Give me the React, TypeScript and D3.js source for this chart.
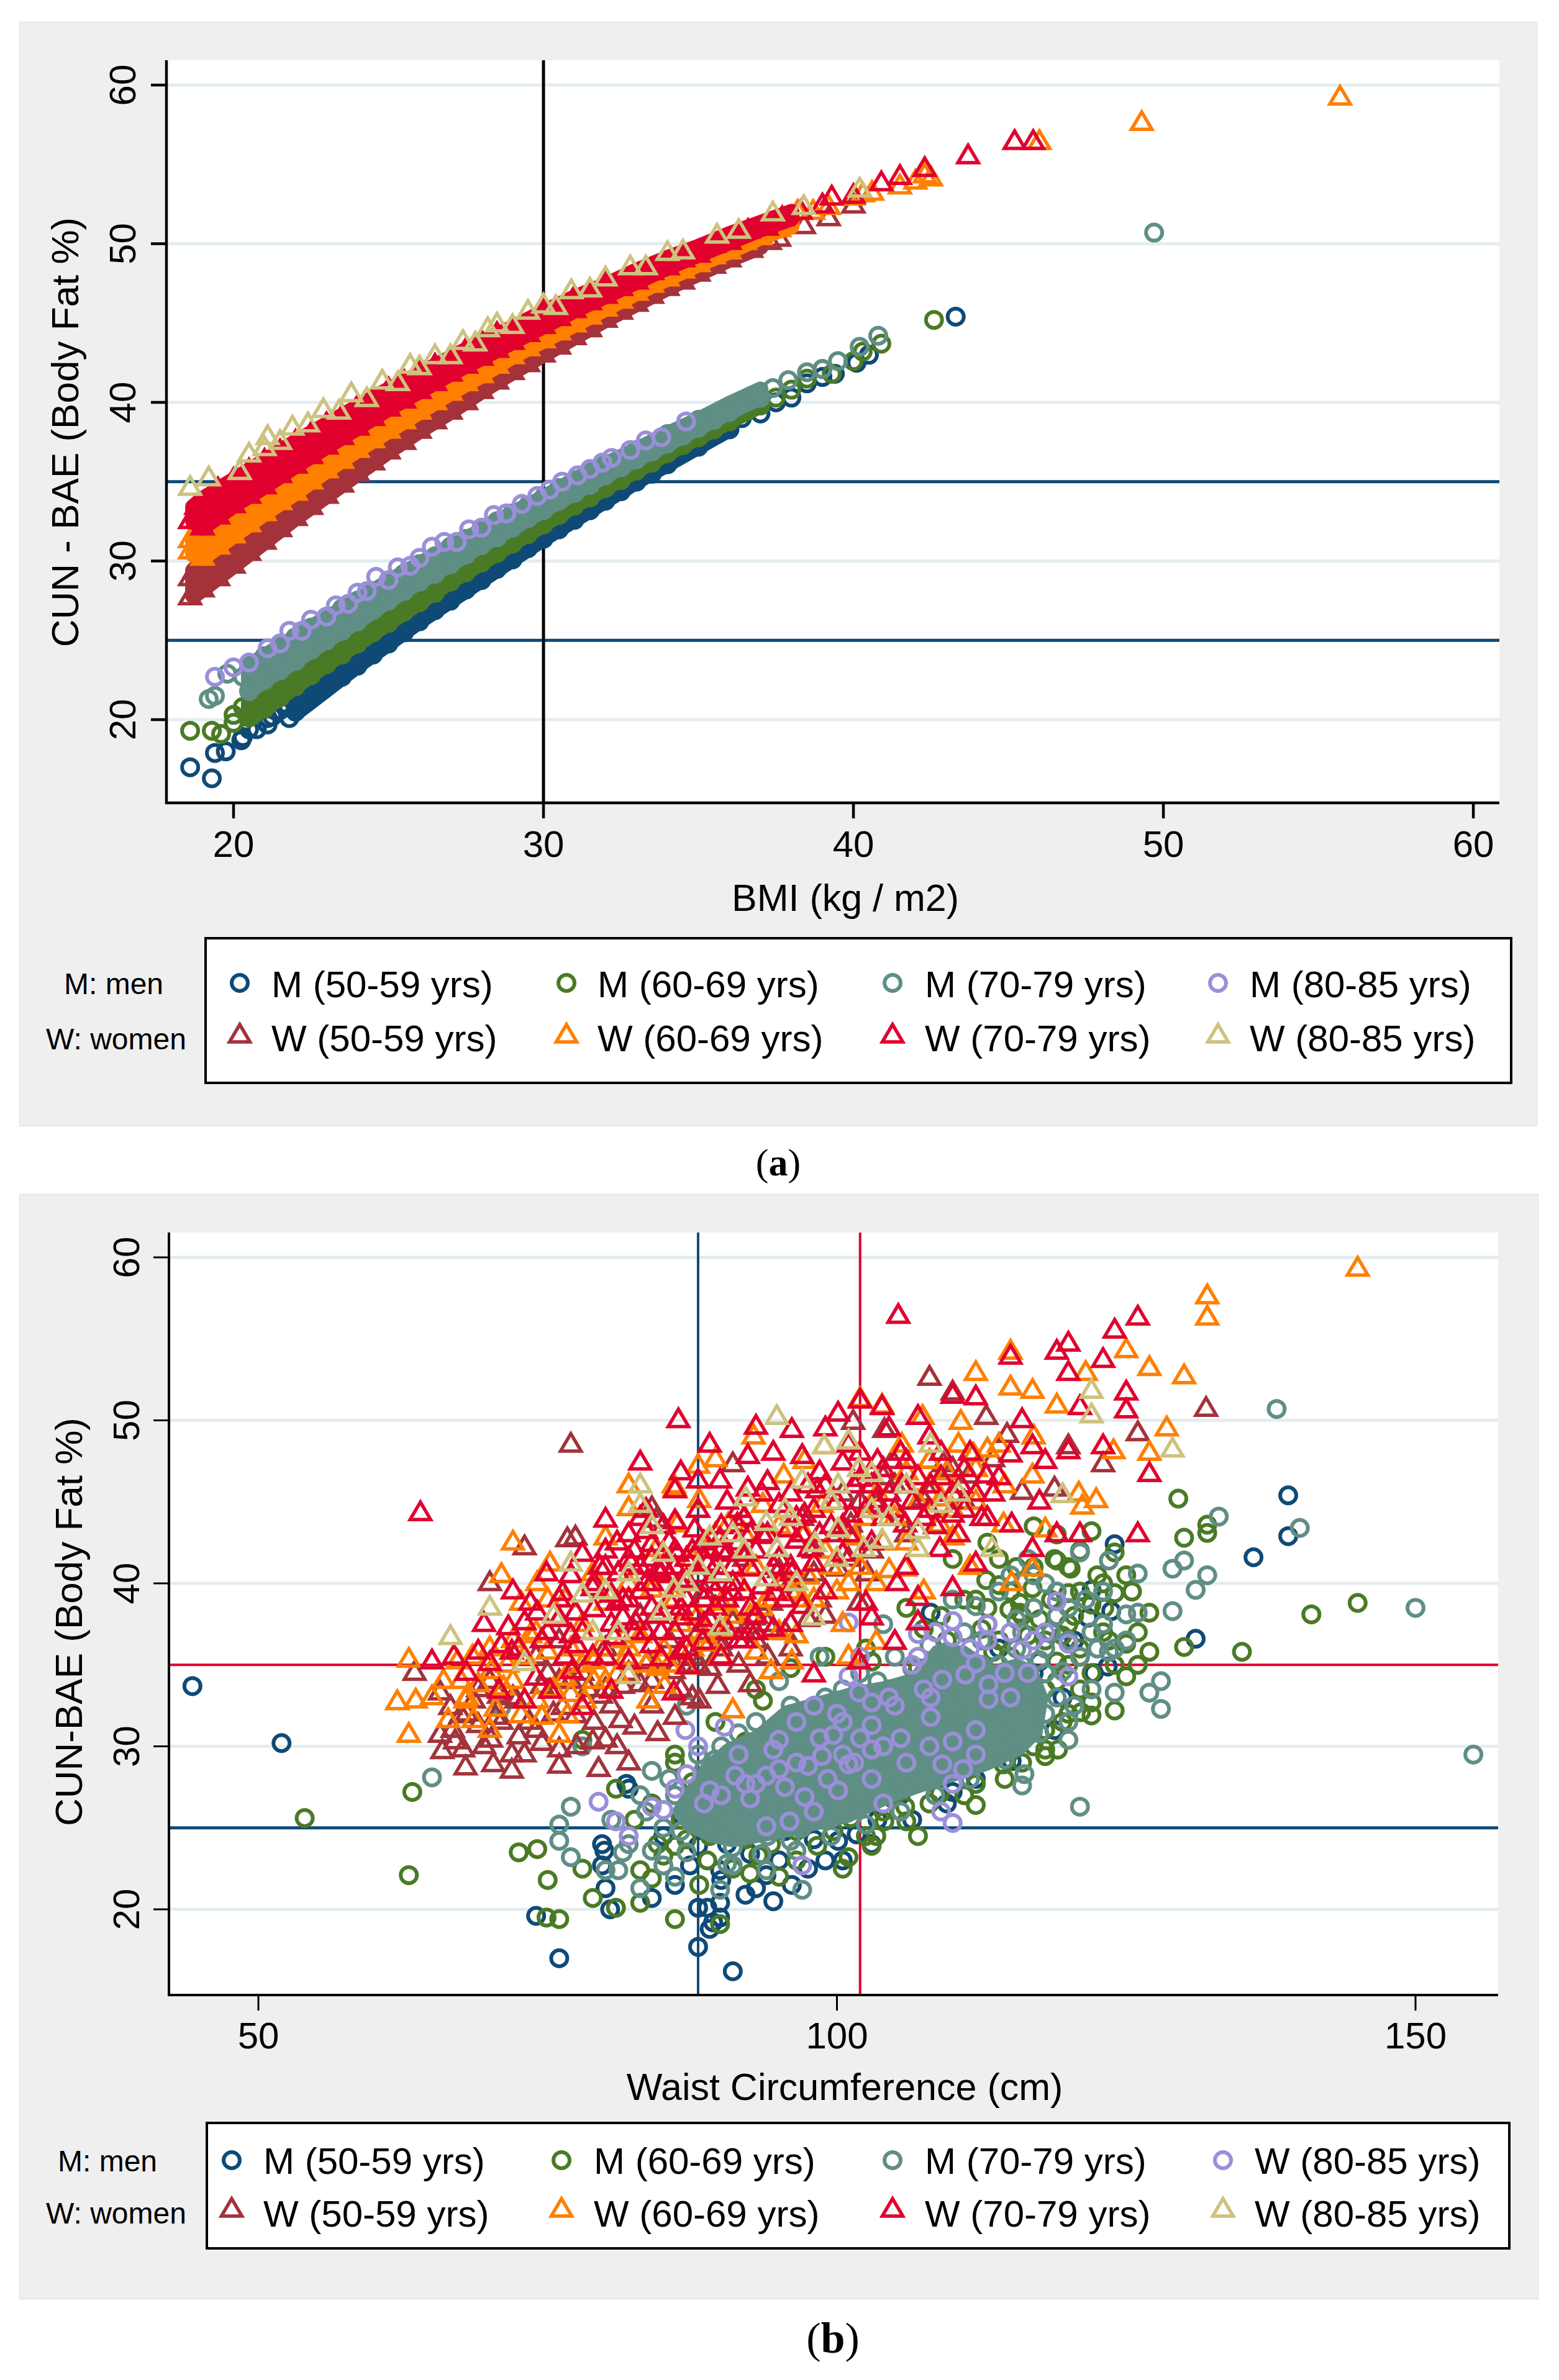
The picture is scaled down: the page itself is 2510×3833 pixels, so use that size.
import React from 'react';
import * as d3 from 'd3';

type Pt = [number, number];
type Bd = [number, number, number];

// ===================== Panel (a): BMI (x) vs CUN-BAE (y) =====================
const aM5059: Pt[] = [[18.6,17.0],[19.3,16.3],[19.4,17.9],[20.3,18.9],[20.5,19.4],[21.1,19.7],[21.1,20.1],[21.5,20.6],[21.8,20.1],[22.0,20.5],[22.3,21.6],[22.9,21.9],[23.0,22.5],[23.5,22.7],[23.8,23.9],[24.0,23.4],[24.5,24.1],[24.5,25.0],[25.0,24.8],[25.3,25.9],[25.5,25.5],[26.0,26.2],[26.3,27.2],[26.5,26.9],[27.0,27.5],[27.3,28.4],[27.5,28.2],[28.0,28.8],[28.4,29.9],[28.5,29.5],[29.0,30.1],[29.4,31.0],[29.5,30.8],[30.0,31.4],[30.3,32.4],[30.5,32.0],[31.0,32.6],[31.4,33.6],[31.5,33.2],[32.0,33.8],[32.4,34.7],[32.5,34.4],[33.0,35.0],[33.5,35.5],[34.0,36.1],[34.5,37.0],[35.0,37.2],[35.5,38.0],[36.0,38.3],[36.4,39.0],[37.0,39.3],[37.5,40.0],[38.0,40.3],[38.5,41.2],[39.0,41.6],[39.4,41.8],[40.1,42.5],[40.5,43.0],[43.3,45.4],[19.75,18.0],[20.25,18.7],[20.75,19.4],[21.25,20.2],[21.75,20.9],[22.25,21.6],[22.75,22.3],[23.25,23.0],[23.75,23.7],[24.25,24.4],[24.75,25.1],[25.25,25.8],[25.75,26.4],[26.25,27.1],[26.75,27.8],[27.25,28.4],[27.75,29.0],[28.25,29.7],[28.75,30.3],[29.25,30.9],[29.75,31.5],[30.25,32.1],[30.75,32.7],[31.25,33.3],[31.75,33.9],[32.25,34.5],[32.75,35.0],[33.25,35.6],[33.75,36.1],[34.25,36.7],[34.75,37.2],[35.25,37.8],[35.75,38.3]];
const aM6069: Pt[] = [[18.6,19.3],[19.3,19.3],[19.6,19.1],[20.0,20.3],[20.0,19.8],[20.3,20.8],[20.7,20.9],[21.0,20.7],[21.0,22.3],[21.5,21.4],[21.5,23.0],[22.0,22.1],[22.0,23.6],[22.5,22.8],[22.5,24.2],[23.0,23.5],[23.0,24.8],[23.5,24.1],[23.5,25.5],[24.0,24.8],[24.0,26.1],[24.5,25.5],[24.5,26.7],[25.0,26.1],[25.0,27.3],[25.5,26.8],[25.5,27.9],[26.0,27.4],[26.0,28.5],[26.5,28.0],[26.5,29.1],[27.0,28.7],[27.0,29.7],[27.5,29.3],[27.5,30.3],[28.0,29.9],[28.0,30.9],[28.5,30.5],[28.5,31.4],[29.0,31.1],[29.0,32.0],[29.5,31.7],[29.5,32.6],[30.0,32.3],[30.0,33.1],[30.5,32.9],[30.5,33.7],[31.0,33.5],[31.0,34.2],[31.5,34.0],[31.5,34.7],[32.0,34.6],[32.0,35.3],[32.5,35.1],[33.0,35.7],[33.0,36.3],[33.5,36.2],[34.0,36.8],[34.0,37.3],[34.5,37.3],[35.0,37.8],[35.0,38.3],[35.5,38.3],[36.0,38.8],[36.0,39.3],[36.5,39.4],[37.0,39.8],[37.5,40.3],[38.0,40.8],[38.5,41.5],[39.0,42.1],[39.3,41.8],[40.0,42.6],[40.3,43.2],[40.9,43.7],[42.6,45.2]];
const aM7079: Pt[] = [[19.2,21.3],[19.4,21.5],[19.8,22.9],[20.3,22.7],[20.5,21.8],[20.5,23.4],[21.0,22.5],[21.0,24.0],[21.5,23.1],[21.5,24.6],[22.0,23.7],[22.0,25.2],[22.5,24.4],[22.5,25.8],[23.0,25.0],[23.0,26.4],[23.5,25.6],[23.5,27.0],[24.0,26.2],[24.0,27.5],[24.5,26.9],[24.5,28.1],[25.0,27.5],[25.0,28.7],[25.5,28.1],[25.5,29.2],[26.0,28.7],[26.0,29.8],[26.5,29.2],[26.5,30.3],[27.0,29.8],[27.0,30.9],[27.5,30.4],[27.5,31.4],[28.0,31.0],[28.0,31.9],[28.5,31.5],[28.5,32.5],[29.0,32.1],[29.0,33.0],[29.5,32.7],[29.5,33.5],[30.0,33.2],[30.0,34.0],[30.5,33.8],[30.5,34.6],[31.0,34.3],[31.0,35.1],[31.5,34.8],[31.5,35.6],[32.0,35.4],[32.0,36.1],[32.5,35.9],[33.0,36.4],[33.0,37.0],[33.5,36.9],[34.0,37.4],[34.0,38.0],[34.5,37.9],[35.0,38.4],[35.0,38.9],[35.5,38.9],[36.0,39.4],[36.3,40.0],[37.0,40.3],[37.4,40.9],[37.9,41.4],[38.5,41.9],[39.0,42.1],[39.5,42.6],[40.2,43.5],[40.8,44.2],[49.7,50.7]];
const aM8085: Pt[] = [[19.4,22.7],[20.0,23.3],[20.5,23.6],[21.1,24.5],[21.5,24.8],[21.8,25.6],[22.2,25.6],[22.5,26.3],[23.0,26.5],[23.3,27.2],[23.7,27.3],[24.0,28.0],[24.3,28.1],[24.6,29.0],[25.0,28.8],[25.3,29.6],[25.7,29.7],[26.0,30.2],[26.4,30.9],[26.8,31.2],[27.2,31.2],[27.6,32.0],[28.0,32.1],[28.4,32.9],[28.8,33.0],[29.3,33.6],[29.8,34.1],[30.2,34.5],[30.6,35.0],[31.1,35.4],[31.5,35.8],[31.9,36.2],[32.2,36.5],[32.8,37.0],[33.3,37.6],[33.8,37.8],[34.6,38.8]];
const aW5059: Pt[] = [[18.6,27.7],[18.6,28.9],[19.0,28.2],[19.0,29.9],[19.5,28.9],[19.5,30.7],[20.0,29.7],[20.0,31.4],[20.5,30.5],[20.5,32.1],[21.0,31.2],[21.0,32.8],[21.5,32.0],[21.5,33.5],[22.0,32.7],[22.0,34.2],[22.5,33.4],[22.5,34.8],[23.0,34.1],[23.0,35.5],[23.5,34.8],[23.5,36.2],[24.0,35.5],[24.0,36.8],[24.5,36.2],[24.5,37.4],[25.0,36.9],[25.0,38.1],[25.5,37.5],[25.5,38.7],[26.0,38.2],[26.0,39.3],[26.5,38.8],[26.5,39.9],[27.0,39.4],[27.0,40.5],[27.5,40.0],[27.5,41.1],[28.0,40.7],[28.0,41.6],[28.5,41.3],[28.5,42.2],[29.0,41.9],[29.0,42.8],[29.5,42.4],[30.0,43.0],[30.0,43.8],[30.5,43.5],[31.0,44.1],[31.0,44.9],[31.5,44.6],[32.0,45.2],[32.0,45.9],[32.5,45.7],[33.0,46.2],[33.5,46.7],[34.0,47.2],[34.5,47.6],[35.0,48.1],[35.5,48.6],[36.0,49.0],[36.7,49.6],[37.3,50.1],[37.6,50.3],[38.4,51.1],[39.2,51.6],[40.0,52.4]];
const aW6069: Pt[] = [[18.6,30.6],[18.6,31.3],[19.0,30.2],[19.0,31.9],[19.5,30.9],[19.5,32.6],[20.0,31.6],[20.0,33.3],[20.5,32.3],[20.5,33.9],[21.0,33.0],[21.0,34.6],[21.5,33.7],[21.5,35.2],[22.0,34.3],[22.0,35.8],[22.5,35.0],[22.5,36.4],[23.0,35.7],[23.0,37.1],[23.5,36.3],[23.5,37.7],[24.0,37.0],[24.0,38.3],[24.5,37.6],[24.5,38.8],[25.0,38.2],[25.0,39.4],[25.5,38.8],[25.5,40.0],[26.0,39.4],[26.0,40.6],[26.5,40.0],[26.5,41.1],[27.0,40.6],[27.0,41.6],[27.5,41.2],[27.5,42.2],[28.0,41.7],[28.0,42.7],[28.5,42.3],[28.5,43.2],[29.0,42.9],[29.0,43.7],[29.5,43.4],[30.0,43.9],[30.0,44.7],[30.5,44.4],[31.0,44.9],[31.0,45.7],[31.5,45.4],[32.0,45.9],[32.0,46.6],[32.5,46.4],[33.0,46.9],[33.5,47.4],[34.0,47.8],[34.5,48.3],[35.0,48.7],[35.5,49.2],[36.0,49.5],[36.5,50.1],[37.0,50.4],[37.6,50.9],[38.2,52.0],[38.7,52.0],[39.2,52.3],[40.0,52.9],[40.3,53.1],[40.6,53.2],[41.5,53.6],[42.0,53.9],[42.3,54.3],[42.5,54.1],[46.0,56.4],[49.3,57.6],[55.7,59.2]];
const aW7079: Pt[] = [[18.6,32.5],[18.8,33.4],[19.0,32.1],[19.4,34.0],[19.5,32.8],[19.5,34.5],[20.0,33.5],[20.0,35.1],[20.5,34.1],[20.5,35.7],[21.0,34.7],[21.0,36.3],[21.5,35.4],[21.5,36.9],[22.0,36.0],[22.0,37.5],[22.5,36.6],[22.5,38.0],[23.0,37.2],[23.0,38.6],[23.5,37.8],[23.5,39.1],[24.0,38.4],[24.0,39.7],[24.5,39.0],[24.5,40.2],[25.0,39.6],[25.0,40.8],[25.5,40.1],[25.5,41.3],[26.0,40.7],[26.0,41.8],[26.5,41.2],[26.5,42.3],[27.0,41.8],[27.0,42.8],[27.5,42.3],[27.5,43.3],[28.0,42.8],[28.0,43.8],[28.5,43.3],[28.5,44.3],[29.0,43.8],[29.0,44.7],[29.5,44.3],[30.0,44.8],[30.0,45.7],[30.5,45.3],[31.0,45.8],[31.0,46.6],[31.5,46.3],[32.0,46.7],[32.0,47.4],[32.5,47.2],[33.0,47.6],[33.5,48.2],[34.0,48.5],[34.5,49.0],[35.0,49.3],[35.5,49.9],[36.0,50.1],[36.6,50.8],[37.2,51.0],[37.7,51.6],[38.3,52.0],[39.0,52.4],[39.3,52.9],[40.0,53.0],[40.9,53.8],[41.5,54.2],[42.3,54.7],[43.7,55.5],[45.2,56.4],[45.8,56.4]];
const aW8085: Pt[] = [[18.6,34.6],[19.2,35.2],[20.2,35.6],[20.5,36.7],[21.0,37.1],[21.1,37.8],[21.5,37.5],[21.9,38.4],[22.4,38.6],[22.9,39.5],[23.4,39.4],[23.8,40.5],[24.3,40.2],[24.8,41.3],[25.3,41.2],[25.7,42.3],[26.0,42.2],[26.5,42.9],[27.0,42.9],[27.4,43.8],[27.8,43.7],[28.2,44.6],[28.5,44.9],[29.0,44.8],[29.5,45.7],[30.0,46.1],[30.4,46.0],[30.9,47.0],[31.5,47.1],[32.0,47.8],[32.8,48.5],[33.3,48.5],[34.0,49.4],[34.5,49.5],[35.6,50.5],[36.3,50.8],[37.4,51.9],[38.4,52.3],[40.2,53.4]];

// dense parts of the panel (a) bands: [BMI, lowest CUN-BAE, highest CUN-BAE]
const aM5059Band: Bd[] = [[22,20.4,21.9],[23,21.9,23.3],[24,23.4,24.7],[25,24.8,26.0],[26,26.2,27.3],[27,27.5,28.6],[28,28.8,29.8],[29,30.1,31.0],[30,31.4,32.2],[31,32.6,33.4],[32,33.8,34.5],[33,35.0,35.6],[34,36.1,36.7],[35,37.2,37.7],[36,38.3,38.8]];
const aM6069Band: Bd[] = [[20.5,20.0,21.6],[21,20.7,22.3],[22,22.1,23.6],[23,23.5,24.8],[24,24.8,26.1],[25,26.1,27.3],[26,27.4,28.5],[27,28.7,29.7],[28,29.9,30.9],[29,31.1,32.0],[30,32.3,33.1],[31,33.5,34.2],[32,34.6,35.3],[33,35.7,36.3],[34,36.8,37.3],[35,37.8,38.3],[36,38.8,39.3],[37,39.8,40.3]];
const aM7079Band: Bd[] = [[20.5,21.8,23.4],[21,22.5,24.0],[22,23.7,25.2],[23,25.0,26.4],[24,26.2,27.5],[25,27.5,28.7],[26,28.7,29.8],[27,29.8,30.9],[28,31.0,31.9],[29,32.1,33.0],[30,33.2,34.0],[31,34.3,35.1],[32,35.4,36.1],[33,36.4,37.0],[34,37.4,38.0],[35,38.4,38.9],[36,39.4,39.9],[37,40.3,40.8]];
const aW5059Band: Bd[] = [[18.7,27.8,29.4],[19,28.2,30.0],[20,29.7,31.4],[21,31.2,32.8],[22,32.7,34.2],[23,34.1,35.5],[24,35.5,36.8],[25,36.9,38.1],[26,38.2,39.3],[27,39.4,40.5],[28,40.7,41.6],[29,41.9,42.8],[30,43.0,43.8],[31,44.1,44.9],[32,45.2,45.9],[33,46.2,46.8],[34,47.2,47.8],[35,48.1,48.6],[36,49.0,49.5],[37,49.8,50.3]];
const aW6069Band: Bd[] = [[18.7,30.4,31.4],[19,30.2,31.9],[20,31.6,33.3],[21,33.0,34.6],[22,34.3,35.8],[23,35.7,37.1],[24,37.0,38.3],[25,38.2,39.4],[26,39.4,40.6],[27,40.6,41.6],[28,41.7,42.7],[29,42.9,43.7],[30,43.9,44.7],[31,44.9,45.7],[32,45.9,46.6],[33,46.9,47.5],[34,47.8,48.4],[35,48.7,49.2],[36,49.5,50.0],[37,50.4,50.8],[38,51.1,51.5]];
const aW7079Band: Bd[] = [[18.7,32.5,33.4],[19,32.1,33.9],[20,33.5,35.1],[21,34.7,36.3],[22,36.0,37.5],[23,37.2,38.6],[24,38.4,39.7],[25,39.6,40.8],[26,40.7,41.8],[27,41.8,42.8],[28,42.8,43.8],[29,43.8,44.7],[30,44.8,45.7],[31,45.8,46.6],[32,46.7,47.4],[33,47.6,48.3],[34,48.5,49.1],[35,49.3,49.8],[36,50.1,50.6],[37,50.9,51.3],[38,51.6,52.0]];

// ============ Panel (b): Waist circumference (x) vs CUN-BAE (y) ============
const bM5059: Pt[] = [[44.3,33.7],[52.0,30.2],[74.0,19.6],[76.0,17.0],[79.7,22.7],[79.7,24.0],[79.9,23.6],[80.0,21.3],[80.4,20.0],[81.8,27.7],[82.0,27.4],[84.0,20.7],[85.0,24.5],[86.5,25.8],[87.3,22.7],[88.0,17.7],[88.0,20.1],[88.0,23.9],[88.8,20.1],[89.0,18.8],[89.3,19.2],[89.9,19.5],[89.9,20.4],[89.9,22.4],[90.5,24.0],[91.0,16.2],[91.5,25.5],[92.0,27.0],[92.1,20.9],[92.5,23.4],[93.0,21.3],[93.9,22.1],[94.0,26.0],[95.0,23.0],[95.5,24.8],[96.0,28.5],[96.1,21.5],[97.0,26.5],[98.0,24.3],[98.5,29.8],[99.0,23.0],[99.5,27.0],[100.1,24.2],[101.0,26.0],[101.7,24.6],[102.0,33.0],[102.5,27.8],[103.5,25.5],[104.0,31.5],[104.5,29.0],[105.5,27.0],[106.0,30.5],[107.0,28.0],[108.1,38.2],[108.5,29.5],[109.0,34.0],[110.0,27.2],[110.5,35.5],[111.0,31.0],[112.5,33.0],[113.5,29.8],[114.0,36.0],[115.1,29.1],[115.1,31.6],[116.0,33.5],[117.0,34.5],[117.5,35.2],[118.8,31.0],[119.5,33.0],[120.5,36.5],[121.7,37.9],[122.0,39.6],[122.2,34.5],[123.4,34.9],[123.7,38.3],[124.0,42.4],[131.0,36.6],[136.0,41.6],[139.0,45.4],[139.0,42.9],[86.0,21.5],[90.0,21.8],[94.5,20.5],[97.5,22.5],[100.5,23.0],[103.0,24.0],[106.5,25.5],[109.5,26.5],[112.0,28.0],[95.0,25.5],[98.5,26.0]];
const bM6069: Pt[] = [[54.0,25.6],[63.0,22.1],[63.3,27.2],[72.5,23.5],[74.1,23.7],[74.9,19.5],[75.0,21.8],[76.0,19.4],[78.0,22.5],[78.0,30.4],[78.9,20.7],[80.9,27.4],[80.9,20.1],[83.0,22.4],[83.0,20.4],[84.0,21.9],[85.0,23.3],[86.0,19.4],[86.0,23.9],[86.0,29.5],[87.0,24.3],[88.1,21.5],[88.8,23.0],[89.9,19.1],[91.0,24.8],[92.1,24.3],[92.1,30.3],[93.2,23.3],[93.6,32.8],[94.3,24.0],[96.5,24.8],[98.3,23.9],[99.7,24.8],[101.0,23.2],[101.2,25.6],[103.0,23.9],[103.4,24.5],[104.1,25.4],[105.9,26.3],[106.0,25.4],[107.0,24.5],[108.9,27.1],[112.0,26.4],[112.0,27.7],[112.9,40.2],[114.0,39.9],[114.2,30.4],[114.4,28.9],[114.9,38.4],[115.8,38.2],[115.8,38.8],[116.9,39.7],[118.0,29.8],[118.0,29.4],[118.8,41.5],[119.0,41.4],[119.1,29.8],[120.0,41.0],[120.0,39.4],[120.2,40.9],[121.0,35.5],[121.1,32.1],[122.0,32.7],[122.0,31.9],[122.0,38.7],[122.0,43.2],[123.0,40.0],[123.1,38.5],[124.0,32.2],[124.0,39.4],[124.0,41.9],[125.0,34.3],[125.0,36.3],[127.0,35.8],[127.0,38.2],[129.5,45.2],[130.0,42.8],[130.0,36.1],[132.0,43.6],[132.0,43.1],[135.0,35.8],[141.0,38.1],[145.0,38.8],[82.5,25.5],[84.5,24.0],[86.5,25.5],[88.0,26.5],[90.0,27.8],[92.0,26.0],[94.0,27.5],[96.0,26.0],[98.0,28.5],[100.0,27.5],[102.0,29.0],[104.0,28.0],[106.0,29.5],[108.0,30.5],[110.0,29.8],[112.0,31.5],[114.0,33.0],[116.0,31.5],[118.0,33.5],[120.0,35.0],[104.5,33.5],[107.0,34.8],[109.5,36.5],[112.5,37.2],[115.0,35.5],[117.5,37.8],[119.5,36.8],[101.0,32.0],[97.0,31.0],[93.5,29.5],[89.5,31.5],[86.0,29.0],[91.0,22.5],[95.0,22.0],[98.0,25.5],[100.5,22.5],[104.0,26.0],[108.0,26.5],[111.0,27.0],[114.5,28.0],[117.0,30.0],[121.0,33.5],[123.5,36.5],[126.0,37.0],[110.0,41.5],[113.0,42.5],[117.0,43.5],[106.0,38.5],[102.5,36.0],[99.0,35.5],[96.0,34.8],[93.0,33.5],[84.0,26.5],[87.5,27.8],[90.5,29.0],[94.5,30.5],[97.5,27.2],[100.5,29.8],[103.5,31.0],[106.5,32.0],[109.0,33.0],[111.5,34.2],[113.5,35.8],[116.5,36.8],[119.0,35.2],[120.5,38.0],[122.5,40.5],[125.5,39.5],[118.5,39.0],[121.0,42.0],[115.5,41.0],[111.0,39.0],[107.5,37.2],[103.0,35.2],[89.0,24.5],[92.5,22.2],[96.5,23.0],[99.5,26.2],[102.5,24.5],[105.0,27.0],[108.5,28.2],[113.0,30.5],[116.0,29.0],[119.5,31.5],[113.0,33.8],[114.0,36.5],[115.0,31.0],[116.0,38.0],[117.0,33.5],[118.0,36.5],[118.0,31.0],[119.0,34.0],[120.0,37.5],[120.0,32.0],[121.0,39.5],[121.0,36.0],[122.0,34.5],[123.0,37.0],[124.0,35.0],[125.0,40.5],[126.0,35.0],[113.0,38.5],[115.0,39.5],[117.0,41.0],[111.0,35.5],[109.0,38.0],[119.0,43.0],[114.0,41.5],[112.0,39.0]];
const bM7079: Pt[] = [[65.0,28.1],[71.0,32.4],[76.0,25.2],[76.0,24.2],[77.0,26.3],[77.0,23.2],[78.0,30.0],[80.0,22.4],[81.1,22.4],[83.0,21.3],[84.0,23.6],[85.0,22.7],[87.0,32.5],[89.9,21.2],[91.0,22.7],[93.9,22.4],[97.0,21.2],[116.0,27.6],[116.2,28.3],[120.0,30.4],[121.0,26.3],[121.0,41.9],[123.5,41.4],[124.0,33.3],[125.0,38.1],[126.0,38.2],[126.0,40.6],[127.0,33.3],[128.0,34.0],[128.0,32.3],[129.0,38.3],[129.0,40.9],[130.0,41.4],[131.0,39.6],[132.0,40.5],[133.0,44.1],[138.0,50.7],[140.0,43.4],[150.0,38.5],[155.0,29.5],[80.5,25.5],[82.0,24.0],[83.5,26.0],[85.0,25.0],[86.0,27.0],[87.5,25.8],[88.5,27.5],[89.5,25.0],[90.5,26.5],[91.5,28.0],[92.5,25.8],[93.5,27.2],[94.5,29.0],[95.5,26.6],[96.5,28.2],[97.5,30.0],[98.5,27.5],[99.5,29.2],[100.5,31.0],[101.5,28.5],[102.5,30.2],[103.5,32.0],[104.5,29.5],[105.5,31.2],[106.5,33.0],[107.5,30.5],[108.5,32.3],[109.5,34.0],[110.5,31.6],[111.5,33.3],[112.5,35.0],[113.5,32.5],[114.5,34.3],[115.5,36.0],[116.5,33.5],[117.5,35.3],[118.5,37.0],[119.5,34.6],[90.0,30.0],[93.0,31.5],[96.0,32.5],[99.0,33.0],[102.0,34.5],[105.0,35.5],[108.0,36.2],[111.0,37.0],[87.0,23.5],[91.0,23.8],[94.0,24.5],[97.0,25.0],[100.0,26.0],[103.0,26.8],[106.0,27.5],[109.0,28.5],[112.0,29.5],[115.0,30.5],[118.0,32.0],[84.0,28.5],[88.0,29.5],[95.0,34.0],[98.5,35.5],[104.0,37.5],[110.0,39.0],[114.0,39.5],[117.0,40.5],[120.0,36.5],[122.5,36.0],[121.5,39.0],[119.0,38.0],[112.0,38.6],[123.5,35.8],[86.5,24.8],[88.0,25.2],[89.0,26.8],[90.0,24.6],[91.0,26.0],[92.0,29.0],[93.0,26.2],[94.0,25.6],[95.0,27.8],[96.0,24.2],[97.0,27.2],[98.0,29.0],[99.0,26.5],[100.0,28.2],[101.0,30.0],[102.0,27.0],[103.0,29.0],[104.0,30.8],[105.0,28.2],[106.0,30.0],[107.0,31.8],[108.0,29.2],[109.0,31.0],[110.0,33.0],[111.0,30.2],[112.0,32.2],[113.0,34.0],[114.0,31.5],[115.0,33.5],[116.0,35.0],[117.0,32.5],[118.0,34.5],[88.5,28.6],[91.5,30.8],[94.5,31.0],[97.5,32.2],[100.5,33.5],[103.5,34.0],[106.5,34.8],[109.5,35.8],[112.5,36.5],[115.5,37.8],[90.5,22.8],[93.5,23.4],[96.5,23.6],[99.5,24.5],[102.5,25.2],[105.5,26.0],[108.5,27.0],[111.5,28.0],[114.5,29.2],[117.5,30.8],[120.5,32.5],[99.0,31.5],[101.5,26.8],[104.5,27.8],[96.0,29.8],[93.0,28.4],[89.5,29.2],[85.5,28.0],[83.0,27.0],[81.5,23.5],[86.0,22.0],[123.0,37.5],[119.0,39.5],[116.5,41.5],[113.0,37.5],[114.0,35.0],[115.0,32.0],[116.0,37.0],[117.0,38.5],[118.0,36.0],[119.0,33.0],[120.0,38.5],[121.0,35.5],[122.0,37.0],[123.0,39.5],[124.0,36.0],[125.0,36.5],[122.0,33.5],[120.0,31.5],[118.0,40.0],[115.0,40.5]];
const bM8085: Pt[] = [[79.4,26.6],[80.9,25.4],[82.0,24.5],[84.0,26.3],[85.0,26.1],[86.0,27.4],[86.9,31.0],[87.0,28.3],[89.0,27.3],[90.3,31.2],[91.2,28.2],[92.1,27.7],[93.0,27.7],[93.9,28.2],[93.9,25.1],[95.0,28.6],[95.0,30.4],[95.9,25.4],[97.0,22.7],[97.2,26.9],[98.0,26.0],[98.0,32.5],[98.7,29.4],[99.2,28.0],[99.7,30.7],[100.1,27.3],[101.0,28.9],[101.0,34.3],[101.0,37.6],[101.9,33.3],[103.0,32.7],[103.0,31.3],[103.0,29.8],[103.0,28.0],[107.0,36.9],[107.0,35.5],[108.1,33.0],[108.1,31.8],[109.1,34.1],[109.1,28.9],[110.0,37.7],[110.0,36.7],[110.0,30.3],[110.0,27.7],[110.0,25.3],[110.9,28.6],[111.1,34.4],[112.0,35.1],[112.0,31.0],[113.0,37.5],[113.1,33.8],[113.1,32.9],[116.0,35.9],[118.0,37.0],[119.0,38.9],[120.0,36.3],[120.0,34.3],[88.0,30.0],[91.5,29.5],[94.5,29.8],[96.5,31.5],[100.0,32.0],[102.0,35.5],[104.5,33.0],[105.5,30.5],[106.5,35.0],[108.5,37.0],[111.5,36.0],[114.5,34.5],[115.0,37.0],[117.0,36.5],[97.5,28.8],[100.5,29.5],[102.0,30.5],[88.5,26.5],[90.0,27.0],[92.5,26.8],[95.5,27.5],[96.5,29.0],[98.5,30.5],[100.5,31.5],[101.5,29.0],[104.0,30.0],[104.0,26.5],[105.0,32.5],[106.0,29.0],[107.5,33.5],[108.0,30.0],[109.0,26.0],[112.0,29.5],[113.0,36.5],[115.0,33.0],[116.5,34.5]];
const bW5059: Pt[] = [[63.5,34.5],[65.7,33.3],[65.7,30.7],[65.9,29.7],[66.6,32.4],[66.8,31.0],[67.5,31.9],[67.7,29.8],[67.9,28.7],[68.6,32.8],[69.0,31.3],[70.0,40.0],[70.1,30.4],[70.3,28.9],[70.8,33.1],[71.9,28.5],[71.9,29.5],[72.3,32.8],[73.0,42.2],[73.4,31.5],[74.5,33.7],[76.0,28.8],[76.0,29.8],[76.3,32.4],[76.7,42.7],[77.0,48.5],[77.4,42.8],[77.4,31.9],[78.9,30.3],[79.4,28.6],[79.6,33.1],[80.0,30.4],[81.3,31.6],[81.5,33.7],[82.0,29.0],[83.7,35.2],[84.0,44.6],[84.4,43.9],[85.9,34.6],[87.7,35.5],[88.1,32.8],[89.7,33.7],[89.9,37.0],[89.9,36.4],[91.0,37.6],[91.0,47.3],[92.8,37.9],[94.3,38.8],[96.5,39.4],[98.0,40.6],[100.1,40.9],[101.2,43.6],[101.4,49.9],[101.9,38.8],[102.6,40.6],[103.4,44.8],[104.1,49.4],[104.8,47.5],[107.4,45.2],[108.0,52.6],[109.2,47.3],[110.0,51.7],[111.4,46.6],[112.9,50.2],[114.7,49.1],[118.8,45.8],[120.0,48.4],[123.0,47.3],[126.0,49.2],[131.9,50.7],[68.0,32.0],[69.5,30.0],[71.0,31.5],[72.5,30.6],[74.0,31.0],[75.5,32.0],[77.5,30.0],[78.5,33.5],[80.5,32.5],[82.5,31.2],[84.0,32.5],[86.0,31.8],[87.5,33.0],[89.0,34.8],[91.5,35.0],[93.0,36.5],[95.5,37.0],[97.5,37.8],[99.0,38.0],[85.5,36.5],[83.0,38.0],[80.0,36.0],[76.0,36.5],[88.5,39.5],[92.0,41.5],[95.0,40.8],[97.0,44.0],[100.5,45.5],[104.0,46.5],[106.0,43.0],[110.0,47.0],[113.5,47.6],[116.0,45.6],[67.0,30.3],[69.0,33.5],[70.5,31.8],[73.0,29.5],[74.5,30.2],[75.0,34.5],[77.0,34.0],[79.0,31.5],[81.0,30.0],[83.0,33.8],[84.5,30.8],[86.5,33.5],[88.0,35.0],[90.0,36.0],[92.5,33.8],[94.0,35.5],[96.0,36.0],[98.5,39.0],[101.0,41.5],[103.0,42.0],[105.5,44.0],[108.0,45.5],[111.0,45.0],[74.0,35.5],[76.0,34.0],[78.0,34.5],[80.0,33.5],[82.0,34.5],[84.0,34.0],[86.0,35.0],[88.0,37.0],[90.0,38.5],[92.0,37.0],[94.0,37.5],[96.0,40.0],[98.0,42.0],[100.0,43.0],[102.0,45.0],[105.0,46.0],[108.0,47.5],[72.0,33.0],[70.0,34.0]];
const bW6069: Pt[] = [[62.0,32.7],[63.0,35.3],[63.6,32.8],[63.0,30.7],[66.4,31.6],[67.2,35.2],[67.9,32.8],[68.6,31.6],[70.1,34.6],[71.0,40.5],[71.2,33.6],[72.0,42.5],[72.7,31.9],[72.7,38.8],[74.1,32.8],[74.1,40.0],[75.2,41.2],[76.0,30.7],[76.7,31.9],[78.2,32.8],[78.9,40.6],[80.0,42.8],[81.8,35.5],[82.0,44.6],[82.0,46.0],[83.7,32.8],[84.4,42.1],[85.1,33.7],[85.9,46.0],[86.0,45.8],[86.2,43.6],[87.0,34.9],[88.0,47.2],[88.1,45.1],[88.1,42.1],[89.5,47.6],[89.9,35.5],[90.6,43.6],[91.0,32.2],[92.8,49.0],[93.0,35.8],[93.6,44.8],[94.3,34.6],[95.0,37.0],[95.4,46.6],[96.1,35.2],[97.2,47.5],[97.2,43.0],[98.7,44.8],[98.9,48.4],[101.0,35.5],[102.0,51.3],[103.4,40.0],[103.4,36.4],[103.9,50.9],[105.6,48.5],[105.9,40.9],[107.4,50.2],[108.9,43.6],[110.0,42.8],[110.7,49.9],[111.8,47.9],[112.0,52.9],[114.4,43.6],[115.0,54.2],[115.0,52.0],[115.1,40.0],[116.9,51.8],[116.9,46.6],[116.9,40.9],[118.0,43.3],[119.0,50.9],[120.9,45.5],[121.2,44.7],[121.5,52.9],[122.4,45.1],[123.9,48.1],[125.0,54.3],[127.0,53.2],[127.0,48.0],[128.5,49.5],[130.0,52.7],[132.0,57.6],[132.0,56.3],[145.0,59.3],[66.0,34.0],[68.5,35.5],[69.0,33.8],[71.5,35.0],[73.5,36.8],[75.0,35.8],[76.5,34.2],[78.0,35.0],[79.5,36.0],[81.0,34.4],[83.0,36.8],[85.0,36.0],[86.5,37.5],[88.0,38.0],[90.0,38.8],[91.5,40.0],[93.0,41.0],[95.5,40.2],[97.5,40.4],[99.5,41.0],[84.0,39.6],[80.0,38.8],[76.5,39.0],[87.5,41.5],[89.5,43.0],[92.0,43.0],[95.0,43.5],[101.5,42.8],[103.5,45.5],[106.0,46.8],[108.0,47.5],[110.5,48.5],[113.0,48.2],[109.0,45.2],[104.5,40.8],[107.5,39.5],[111.5,41.0],[117.0,49.0],[100.5,37.5],[96.5,36.8],[74.5,31.8],[70.0,31.0],[65.0,33.0],[67.5,34.0],[70.5,32.3],[72.0,34.0],[73.0,35.5],[75.5,33.5],[77.0,33.2],[79.0,34.0],[81.5,36.5],[84.5,34.8],[86.0,39.0],[88.5,36.8],[90.5,37.2],[92.5,38.0],[94.0,39.0],[97.0,39.0],[99.0,42.0],[101.0,40.0],[102.5,44.0],[105.0,44.0],[107.0,45.0],[109.5,46.8],[112.0,45.0],[114.5,46.0],[82.0,40.0],[78.0,37.5],[74.0,37.0],[77.0,36.0],[79.0,35.2],[80.0,34.0],[82.0,36.0],[83.5,35.0],[85.5,35.0],[87.5,36.0],[89.0,36.3],[91.0,38.0],[93.5,38.5],[96.0,39.5],[98.0,39.0],[100.0,39.5],[102.0,41.0],[104.0,42.5],[106.0,42.5],[108.0,46.0],[110.0,44.5],[112.0,47.0],[114.0,48.5],[72.0,36.5],[70.0,36.0],[68.0,33.0],[75.0,39.0]];
const bW7079: Pt[] = [[64.0,44.3],[65.0,35.2],[66.9,35.5],[70.0,35.1],[70.8,33.4],[71.6,37.3],[71.9,35.8],[72.0,39.5],[73.0,37.6],[73.0,32.8],[74.1,38.2],[74.9,40.6],[75.2,33.4],[76.3,39.4],[77.1,34.6],[77.4,38.2],[78.0,32.4],[78.9,39.7],[78.9,35.5],[80.0,43.9],[80.5,33.4],[80.7,36.7],[81.1,40.6],[82.0,43.0],[82.2,41.2],[82.6,37.6],[83.0,47.4],[84.0,42.4],[84.8,40.6],[84.8,37.0],[84.8,35.4],[85.9,33.3],[86.0,45.7],[86.2,41.8],[86.3,50.0],[86.6,37.9],[87.1,34.9],[87.7,43.3],[88.0,46.3],[88.4,36.4],[88.8,41.2],[89.9,42.7],[89.9,46.3],[90.6,37.0],[91.4,43.6],[92.1,41.8],[92.3,47.8],[92.3,45.8],[92.5,38.5],[93.0,49.6],[93.6,42.9],[94.7,39.4],[95.0,44.8],[95.8,43.3],[96.1,49.4],[96.1,40.6],[97.0,47.8],[97.2,44.2],[97.6,42.1],[98.3,45.7],[99.0,49.5],[100.1,50.4],[101.2,44.2],[101.9,35.2],[102.0,51.2],[103.0,37.9],[103.4,45.1],[103.9,50.8],[105.0,36.4],[105.2,40.0],[105.3,56.4],[105.6,46.0],[105.9,43.6],[107.0,50.2],[107.0,39.1],[107.0,37.6],[108.1,46.0],[108.9,42.1],[110.0,51.5],[110.0,44.2],[110.0,39.7],[110.7,46.0],[112.0,51.4],[112.0,41.2],[112.9,46.6],[115.0,53.9],[115.0,47.9],[115.1,43.6],[116.9,48.4],[116.9,42.1],[118.0,47.5],[119.0,54.2],[120.0,54.7],[120.0,52.9],[120.0,48.1],[121.0,50.8],[121.0,43.0],[123.0,53.7],[123.0,48.4],[124.0,55.5],[125.0,51.7],[125.0,50.6],[126.0,56.3],[126.0,43.0],[127.0,46.7],[74.5,36.5],[76.0,37.8],[77.5,36.2],[79.0,38.4],[80.5,39.3],[81.5,37.9],[83.0,39.5],[84.5,40.8],[85.5,38.9],[87.0,40.2],[88.5,39.0],[90.0,40.5],[91.0,39.4],[92.5,40.9],[93.5,39.8],[95.0,41.5],[96.5,42.6],[98.0,41.2],[99.5,43.5],[78.0,41.8],[80.0,42.0],[83.5,43.2],[86.0,43.8],[88.0,44.5],[90.5,45.0],[92.0,44.0],[94.0,46.2],[96.0,45.5],[98.5,46.8],[100.5,47.4],[102.0,46.4],[104.0,44.0],[106.5,45.0],[100.5,41.8],[103.0,42.5],[97.0,38.6],[89.0,37.8],[84.0,36.2],[76.5,35.5],[72.5,36.0],[68.0,34.5],[69.5,37.5],[74.0,34.2],[82.0,35.2],[86.5,35.8],[91.5,36.5],[94.5,37.2],[99.0,39.5],[102.5,38.8],[106.0,41.0],[108.5,43.5],[111.0,44.5],[113.5,45.5],[117.5,45.0],[119.0,43.0],[98.0,34.4],[75.0,37.0],[77.0,40.5],[79.5,41.0],[81.0,38.8],[82.5,42.0],[84.0,38.5],[85.5,42.5],[86.5,40.0],[87.5,38.2],[88.5,42.5],[89.5,39.5],[90.5,41.8],[91.5,44.5],[92.5,43.0],[93.5,45.5],[94.5,41.0],[95.5,39.0],[96.5,44.0],[97.5,46.0],[98.5,43.0],[99.5,45.0],[100.5,43.5],[101.5,46.0],[102.5,44.5],[103.5,47.5],[104.5,45.5],[105.5,48.0],[107.5,44.0],[109.0,46.5],[110.5,43.0],[112.5,44.0],[114.0,46.5],[90.0,35.5],[93.0,37.0],[96.0,37.5],[87.0,36.0],[80.0,35.5],[77.0,36.8],[73.5,38.8],[71.0,36.2],[69.0,35.8],[83.5,44.5],[86.5,46.8],[89.0,48.5],[94.5,48.0],[101.0,48.5],[104.5,49.5],[108.0,49.0],[111.5,48.0],[116.0,50.0],[79.0,40.0],[80.0,41.0],[81.0,42.5],[82.0,39.0],[83.0,41.0],[84.0,41.5],[85.0,43.5],[86.0,42.0],[87.0,41.5],[88.0,40.5],[89.0,42.0],[90.0,43.5],[91.0,41.0],[92.0,39.5],[93.0,42.0],[94.0,43.0],[95.0,40.0],[96.0,41.0],[97.0,43.0],[98.0,44.5],[99.0,46.0],[100.0,45.0],[101.0,43.0],[102.0,48.0],[103.0,46.0],[104.0,47.0],[105.0,44.5],[106.0,47.5],[107.0,46.5],[108.0,44.5],[109.0,48.0],[110.0,45.5],[111.0,47.0],[112.0,45.5],[113.0,44.0],[76.0,39.0],[78.0,37.0],[80.5,37.5],[83.5,37.0],[86.0,37.0],[89.5,38.5],[92.0,36.5],[81.5,39.0],[82.5,37.0],[83.5,40.0],[84.5,38.0],[85.5,40.5],[86.5,38.5],[87.5,42.0],[88.5,37.5],[89.5,41.0],[90.5,39.0],[91.5,42.5],[92.5,37.0],[83.0,44.0],[85.0,41.0],[87.0,39.0],[89.0,40.0],[91.0,40.0],[93.0,38.0],[82.0,41.5],[84.0,40.0],[86.0,41.0],[88.0,42.0],[90.0,42.0]];
const bW8085: Pt[] = [[66.6,36.7],[73.0,35.1],[77.0,41.2],[78.0,39.3],[78.9,37.0],[81.1,37.0],[82.0,40.6],[82.0,34.3],[83.0,46.0],[83.0,44.8],[84.8,38.2],[85.0,41.8],[85.9,39.6],[89.0,42.8],[89.9,40.6],[89.9,37.3],[92.1,45.2],[93.9,43.7],[93.9,40.3],[94.8,42.1],[94.8,50.2],[97.0,46.3],[98.0,37.9],[98.1,42.4],[98.9,48.4],[100.1,46.0],[100.1,43.3],[101.0,48.7],[101.9,47.0],[102.3,42.1],[103.0,46.7],[103.9,42.6],[107.0,43.2],[107.0,42.1],[108.1,48.5],[109.0,44.8],[113.4,42.1],[119.5,45.4],[122.0,51.8],[122.0,50.3],[129.0,48.2],[70.0,38.5],[75.5,38.0],[80.0,39.5],[87.0,40.0],[91.0,43.0],[95.5,44.5],[96.5,40.0],[104.5,44.0],[110.5,45.5],[99.5,45.0],[84.0,43.5],[88.0,41.0],[92.0,42.0],[96.0,44.0],[100.0,41.5],[103.0,44.5],[106.0,46.0]];

// outline of the fully overplotted core of M (70-79 yrs) in panel (b): [waist, CUN-BAE]
const bM7079Core: Pt[] = [[87.0,25.0],[89.0,24.3],[91.0,24.0],[95.0,24.5],[98.0,25.0],[101.0,25.5],[104.0,26.5],[107.0,27.3],[110.0,28.0],[113.0,28.7],[116.0,29.7],[117.5,30.8],[118.0,33.0],[117.0,34.8],[115.5,35.2],[113.5,34.8],[111.0,36.0],[108.5,36.0],[106.5,34.3],[104.0,33.8],[101.5,33.5],[98.0,32.8],[95.5,32.3],[93.0,30.8],[90.5,30.0],[88.5,28.8],[87.0,27.2],[86.0,26.0]];

// ----- labels, ticks, reference values -----
const legendLabelsA = ['M (50-59 yrs)', 'M (60-69 yrs)', 'M (70-79 yrs)', 'M (80-85 yrs)', 'W (50-59 yrs)', 'W (60-69 yrs)', 'W (70-79 yrs)', 'W (80-85 yrs)'];
const legendLabelsB = ['M (50-59 yrs)', 'M (60-69 yrs)', 'M (70-79 yrs)', 'W (80-85 yrs)', 'W (50-59 yrs)', 'W (60-69 yrs)', 'W (70-79 yrs)', 'W (80-85 yrs)'];
const groupLabels = ['M: men', 'W: women'];
const xTicksA = [20, 30, 40, 50, 60];
const xTicksB = [50, 100, 150];
const yTicks = [20, 30, 40, 50, 60];
const hRefA = [25, 35];
const vRefA = [30];
const hRefB = [35, 25];
const vRefB = [88, 102];

const COLORS = ['#0f4a77', '#4a7a25', '#5f8e85', '#9a8fd8', '#a4323b', '#ff7f00', '#e1002e', '#cdc27f'];
const SHAPES = ['circle', 'circle', 'circle', 'circle', 'triangle', 'triangle', 'triangle', 'triangle'];
const NAVY = '#0f4a77';
const RED = '#e1002e';
const SANS = "'Liberation Sans', Arial, Helvetica, sans-serif";
const SERIF = "'Liberation Serif', 'DejaVu Serif', serif";

function Marker({ shape, color, cx, cy }: { shape: string; color: string; cx: number; cy: number }) {
  if (shape === 'circle') {
    return <circle cx={cx} cy={cy} r={13} fill="none" stroke={color} strokeWidth={6} />;
  }
  return (
    <path
      d={`M${cx},${cy - 18}L${cx + 16.5},${cy + 10}L${cx - 16.5},${cy + 10}Z`}
      fill="none"
      stroke={color}
      strokeWidth={5.5}
    />
  );
}

function Panel({ cfg }: { cfg: any }) {
  const { left, right, top, bottom } = cfg.plot;
  const x = d3.scaleLinear().domain(cfg.xDomain).range([left, right]);
  const y = d3.scaleLinear().domain(cfg.yDomain).range([bottom, top]);
  const band = d3.area<Bd>().x((d) => x(d[0])).y0((d) => y(d[1])).y1((d) => y(d[2]));
  const core = d3.line<Pt>().x((d) => x(d[0])).y((d) => y(d[1])).curve(d3.curveLinearClosed);
  const lg = cfg.legend;
  return (
    <g>
      <rect x={cfg.bg[0]} y={cfg.bg[1]} width={cfg.bg[2] - cfg.bg[0]} height={cfg.bg[3] - cfg.bg[1]} fill="#efefef" stroke="#e3edef" strokeWidth={3} />
      <rect x={left} y={top} width={right - left} height={bottom - top} fill="#ffffff" />
      {yTicks.map((v) => (
        <line key={'g' + v} x1={left} x2={right} y1={y(v)} y2={y(v)} stroke="#e3edef" strokeWidth={5} />
      ))}
      {cfg.hRef.map((r: any, i: number) => (
        <line key={'h' + i} x1={left} x2={right} y1={y(r.v)} y2={y(r.v)} stroke={r.c} strokeWidth={r.w} />
      ))}
      {cfg.vRef.map((r: any, i: number) => (
        <line key={'v' + i} x1={x(r.v)} x2={x(r.v)} y1={top} y2={bottom} stroke={r.c} strokeWidth={r.w} />
      ))}
      {cfg.series.map((s: any, i: number) => (
        <g key={'s' + i}>
          {s.band && (
            <path d={band(s.band) || ''} fill={COLORS[i]} stroke={COLORS[i]} strokeWidth={26} strokeLinejoin="round" strokeLinecap="round" />
          )}
          {s.core && (
            <path d={core(s.core) || ''} fill={COLORS[i]} stroke={COLORS[i]} strokeWidth={10} strokeLinejoin="round" />
          )}
          {s.pts.map((d: Pt, j: number) => (
            <Marker key={j} shape={SHAPES[i]} color={COLORS[i]} cx={x(d[0])} cy={y(d[1])} />
          ))}
        </g>
      ))}
      <line x1={left} x2={left} y1={top} y2={bottom + 2} stroke="#000" strokeWidth={cfg.axisW} />
      <line x1={left - 2} x2={right} y1={bottom} y2={bottom} stroke="#000" strokeWidth={cfg.axisW} />
      {yTicks.map((v) => (
        <g key={'yt' + v}>
          <line x1={left - 25} x2={left} y1={y(v)} y2={y(v)} stroke="#000" strokeWidth={cfg.tickW} />
          <text transform={`translate(${cfg.yLabelX},${y(v)}) rotate(-90)`} textAnchor="middle" fontFamily={SANS} fontSize={60}>{v}</text>
        </g>
      ))}
      {cfg.xTicks.map((v: number) => (
        <g key={'xt' + v}>
          <line x1={x(v)} x2={x(v)} y1={bottom} y2={bottom + 25} stroke="#000" strokeWidth={cfg.tickW} />
          <text x={x(v)} y={cfg.xLabelY} textAnchor="middle" fontFamily={SANS} fontSize={60}>{v}</text>
        </g>
      ))}
      <text transform={`translate(${cfg.yTitleX},${cfg.yTitleY}) rotate(-90)`} textAnchor="middle" fontFamily={SANS} fontSize={62}>{cfg.yTitle}</text>
      <text x={cfg.xTitleX} y={cfg.xTitleY} textAnchor="middle" fontFamily={SANS} fontSize={61}>{cfg.xTitle}</text>
      <text x={lg.groupX[0]} y={lg.groupY[0]} textAnchor="middle" fontFamily={SANS} fontSize={48}>{groupLabels[0]}</text>
      <text x={lg.groupX[1]} y={lg.groupY[1]} textAnchor="middle" fontFamily={SANS} fontSize={48}>{groupLabels[1]}</text>
      <rect x={lg.box[0]} y={lg.box[1]} width={lg.box[2] - lg.box[0]} height={lg.box[3] - lg.box[1]} fill="#ffffff" stroke="#000" strokeWidth={4} />
      {cfg.labels.map((lab: string, i: number) => {
        const col = i % 4;
        const row = Math.floor(i / 4);
        return (
          <g key={'l' + i}>
            <Marker shape={SHAPES[i]} color={COLORS[i]} cx={lg.markerX[col]} cy={lg.markerY[row]} />
            <text x={lg.textX[col]} y={lg.textY[row]} fontFamily={SANS} fontSize={60}>{lab}</text>
          </g>
        );
      })}
      <text x={cfg.capX} y={cfg.capY} textAnchor="middle" fontFamily={SERIF} fontSize={cfg.capSize}>
        (<tspan fontWeight="bold">{cfg.cap}</tspan>)
      </text>
    </g>
  );
}

const cfgA = {
  bg: [32, 36, 2474, 1813],
  plot: { left: 268, right: 2414, top: 97, bottom: 1293 },
  xDomain: [17.836, 60.84],
  yDomain: [14.755, 61.566],
  xTicks: xTicksA,
  hRef: hRefA.map((v) => ({ v, c: NAVY, w: 5 })),
  vRef: vRefA.map((v) => ({ v, c: '#000', w: 5 })),
  series: [
    { pts: aM5059, band: aM5059Band },
    { pts: aM6069, band: aM6069Band },
    { pts: aM7079, band: aM7079Band },
    { pts: aM8085 },
    { pts: aW5059, band: aW5059Band },
    { pts: aW6069, band: aW6069Band },
    { pts: aW7079, band: aW7079Band },
    { pts: aW8085 },
  ],
  axisW: 4.5,
  tickW: 4.5,
  yLabelX: 218,
  xLabelY: 1380,
  yTitle: 'CUN - BAE (Body Fat %)',
  yTitleX: 126,
  yTitleY: 696,
  xTitle: 'BMI (kg / m2)',
  xTitleX: 1361,
  xTitleY: 1467,
  legend: {
    box: [331, 1511, 2433, 1744],
    groupX: [183, 187],
    groupY: [1601, 1690],
    markerX: [386, 912, 1437, 1961],
    markerY: [1583, 1668],
    textX: [437, 962, 1489, 2012],
    textY: [1606, 1693],
  },
  labels: legendLabelsA,
  cap: 'a',
  capX: 1253,
  capY: 1893,
  capSize: 62,
};

const cfgB = {
  bg: [32, 1924, 2476, 3702],
  plot: { left: 272, right: 2412, top: 1985, bottom: 3213 },
  xDomain: [42.27, 157.14],
  yDomain: [14.743, 61.524],
  xTicks: xTicksB,
  hRef: hRefB.map((v) => ({ v, c: v === 35 ? RED : NAVY, w: v === 35 ? 4 : 5 })),
  vRef: vRefB.map((v) => ({ v, c: v === 88 ? NAVY : RED, w: 4 })),
  series: [
    { pts: bM5059 },
    { pts: bM6069 },
    { pts: bM7079, core: bM7079Core },
    { pts: bM8085 },
    { pts: bW5059 },
    { pts: bW6069 },
    { pts: bW7079 },
    { pts: bW8085 },
  ],
  axisW: 4,
  tickW: 3,
  yLabelX: 224,
  xLabelY: 3299,
  yTitle: 'CUN-BAE (Body Fat %)',
  yTitleX: 132,
  yTitleY: 2612,
  xTitle: 'Waist Circumference (cm)',
  xTitleX: 1360,
  xTitleY: 3382,
  legend: {
    box: [333, 3419, 2430, 3621],
    groupX: [173, 187],
    groupY: [3497, 3581],
    markerX: [373, 904, 1437, 1969],
    markerY: [3479, 3559],
    textX: [424, 956, 1489, 2020],
    textY: [3501, 3586],
  },
  labels: legendLabelsB,
  cap: 'b',
  capX: 1341,
  capY: 3789,
  capSize: 70,
};

export default function App() {
  return (
    <svg
      width={2510}
      height={3833}
      viewBox="0 0 2510 3833"
      style={{ position: 'absolute', left: 0, top: 0, display: 'block', background: '#ffffff' }}
    >
      <rect x={0} y={0} width={2510} height={3833} fill="#ffffff" />
      <Panel cfg={cfgA} />
      <Panel cfg={cfgB} />
    </svg>
  );
}
